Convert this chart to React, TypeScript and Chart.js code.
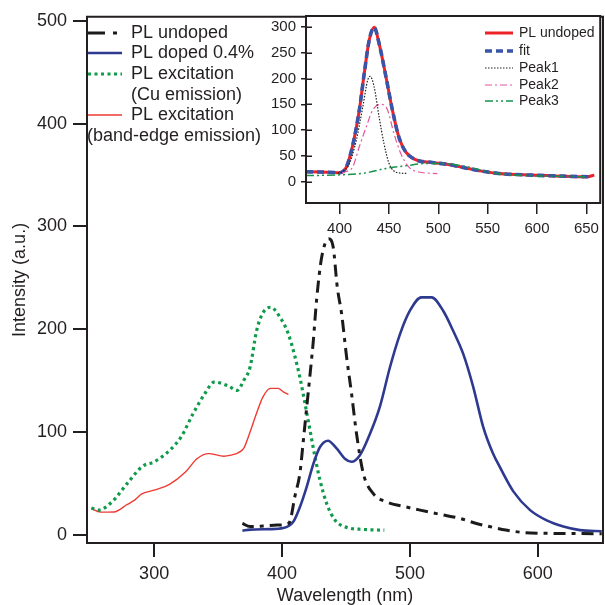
import React, { useEffect, useRef } from "react";
import { Chart, registerables } from "chart.js";

Chart.register(...registerables);

const FONT = "'Liberation Sans', Arial, Helvetica, sans-serif";
const INK = "#231f20";

// ---------- main chart data ----------
const undopedX = [369, 375, 385, 396, 405, 406.5, 410, 414, 416.7, 419.3, 422, 424.5, 427, 431, 436.5, 440, 443.2, 446.6, 450.5, 454.4, 458.3, 463.5, 471.4, 481.8, 497.4, 508, 523, 539, 552, 563, 575, 588, 607, 630, 650];
const undopedY = [11, 8, 8.5, 9.4, 11, 14, 37, 60, 92, 124, 157, 189, 228, 270, 288, 280, 241, 215, 173, 137, 98, 60, 40, 32, 27, 24, 20, 16, 11, 7.8, 4.6, 2.3, 1.4, 1.2, 1];

const dopedX = [369, 375, 390, 401, 408.8, 414, 419.3, 424.5, 429.7, 436, 442.7, 449.2, 454.4, 460.9, 468.7, 476.6, 484.4, 492.2, 500, 509, 517, 526, 534, 541.7, 549.5, 557.3, 565, 570.3, 581, 594, 607, 620, 633, 650];
const dopedY = [4, 5, 5.5, 6.5, 12.6, 27, 46.6, 69, 85.4, 91.5, 84, 74, 71, 77.4, 98, 125, 163, 195, 218, 231, 231, 218, 198, 176, 144, 105, 79, 66, 42, 24, 14, 8, 4.5, 3.5];

const cuExcX = [251, 256.6, 267, 279, 291, 300, 312, 321, 330.5, 339.5, 347, 357.7, 365, 370, 375, 380.2, 385.4, 391, 398.4, 404.9, 410.2, 414, 418, 421.9, 425.8, 429.7, 434.9, 441.4, 450.5, 463.5, 480];
const cuExcY = [26, 24, 32, 50, 66.7, 71, 82, 95, 118, 137, 148.6, 145, 140.5, 150, 163, 199, 216.5, 221.4, 211.7, 195.5, 173, 153, 127.6, 101.6, 75.7, 53, 30.5, 14.3, 7.2, 5.2, 4.5];

const bandExcX = [250.6, 258, 268.5, 279, 285, 290, 300, 312, 324.5, 333.5, 342.6, 354.6, 360, 366, 370, 375, 380, 385, 391, 397, 401, 405];
const bandExcY = [25.6, 22, 22.2, 29.5, 34, 39.5, 43.4, 49, 61, 74, 79, 76.4, 77.5, 80, 84, 100, 118, 134, 142.5, 142.5, 139, 136.5];

const mainXTicks = [300, 400, 500, 600];
const mainYTicks = [0, 100, 200, 300, 400, 500];

// ---------- inset data ----------
const insetPlX = [366, 380, 395, 400, 404, 407, 413, 420, 425, 430, 435, 440, 447, 453.5, 460, 467, 477, 494, 510, 527, 544, 561, 594, 627, 651, 658];
const insetPlY = [19.4, 19, 18, 17.5, 21, 29, 68, 139, 210, 274, 299, 268, 203, 139, 87, 58, 43, 37.5, 33.6, 27, 20.7, 16.2, 13, 11, 9.7, 13];

const fitX = [366, 380, 395, 400, 404, 407, 413, 420, 425, 430, 435, 440, 447, 453.5, 460, 467, 477, 494, 510, 527, 544, 561, 594, 627, 652];
const fitY = [19.4, 19, 18, 17.5, 21, 29, 68, 139, 210, 274, 299, 268, 203, 139, 87, 58, 43, 37.5, 33.6, 27, 20.7, 16.2, 13, 11, 9.7];

const peak1X = [398, 403, 410, 417, 423.5, 428.5, 431, 435, 440, 445, 450, 455, 460, 469];
const peak1Y = [17, 19.5, 35.5, 81, 145, 197, 204, 184, 126, 74, 36, 21, 17.5, 16];

const peak2X = [402, 407, 413.4, 420, 427, 433.5, 442, 448.6, 455, 462, 470, 480, 499];
const peak2Y = [17, 20, 29, 68, 106, 139, 150, 139, 94, 55, 29, 19, 16];

const peak3X = [366, 400, 427, 447, 467, 487, 504, 520, 537, 554, 577, 611, 651];
const peak3Y = [12, 13.5, 17.4, 26, 31, 35.5, 35.5, 32.3, 26, 17.4, 13, 11, 9.7];

const insetXTicks = [400, 450, 500, 550, 600, 650];
const insetYTicks = [0, 50, 100, 150, 200, 250, 300];

const mainLegendLabels = [["PL undoped"], ["PL doped 0.4%"], ["PL excitation", "(Cu emission)"], ["PL excitation", "(band-edge emission)"]];
const insetLegendLabels = ["PL undoped", "fit", "Peak1", "Peak2", "Peak3"];

function pts(xs: number[], ys: number[]) {
  return xs.map((x, i) => ({ x, y: ys[i] }));
}

const lineBase = {
  pointRadius: 0,
  fill: false,
  cubicInterpolationMode: "monotone" as const,
  borderCapStyle: "butt" as const,
  borderJoinStyle: "round" as const,
};

const mainStyles = [
  { color: "#1b1b1b", width: 3, dash: [12, 6, 4, 6], legendDash: [17, 8, 4, 20] },
  { color: "#2e3a8f", width: 2.6, dash: [] as number[], legendDash: [] as number[] },
  { color: "#0f9b4a", width: 3.2, dash: [3, 3.5], legendDash: [3, 3.5] },
  { color: "#ee3b33", width: 1.4, dash: [] as number[], legendDash: [] as number[] },
];

const insetStyles = [
  { color: "#ec2227", width: 3, dash: [] as number[] },
  { color: "#3a55a8", width: 3.6, dash: [7, 4] },
  { color: "#222222", width: 1.2, dash: [1.5, 1.5] },
  { color: "#e4559b", width: 1.2, dash: [7, 3, 2, 3] },
  { color: "#16934b", width: 1.5, dash: [8, 3, 2, 3, 2, 3] },
];

const framePlugin = (sides: { top: boolean; right: boolean; left: boolean; bottom: boolean }, lw: number) => ({
  id: "frame",
  afterDraw(chart: any) {
    const { ctx, chartArea } = chart;
    const { left, right, top, bottom } = chartArea;
    ctx.save();
    ctx.strokeStyle = INK;
    ctx.lineWidth = lw;
    ctx.lineCap = "square";
    ctx.beginPath();
    if (sides.top) { ctx.moveTo(left, top); ctx.lineTo(right, top); }
    if (sides.right) { ctx.moveTo(right, top); ctx.lineTo(right, bottom); }
    if (sides.left) { ctx.moveTo(left, top); ctx.lineTo(left, bottom); }
    if (sides.bottom) { ctx.moveTo(left, bottom); ctx.lineTo(right, bottom); }
    ctx.stroke();
    ctx.restore();
  },
});

const mainLegendPlugin = {
  id: "mainLegend",
  afterDraw(chart: any) {
    const ctx = chart.ctx;
    ctx.save();
    ctx.font = `18px ${FONT}`;
    ctx.fillStyle = INK;
    ctx.textBaseline = "middle";
    const rowsY = [33, 53, 74, 115];
    const contY = [0, 0, 95, 136];
    const contX = [0, 0, 131, 87];
    mainLegendLabels.forEach((lines, i) => {
      const s = mainStyles[i];
      ctx.save();
      ctx.strokeStyle = s.color;
      ctx.lineWidth = s.width;
      ctx.setLineDash(s.legendDash);
      ctx.beginPath();
      ctx.moveTo(88, rowsY[i]);
      ctx.lineTo(122, rowsY[i]);
      ctx.stroke();
      ctx.restore();
      ctx.fillText(lines[0], 131, rowsY[i]);
      if (lines[1]) ctx.fillText(lines[1], contX[i], contY[i]);
    });
    ctx.restore();
  },
};

const insetLegendPlugin = {
  id: "insetLegend",
  afterDraw(chart: any) {
    const ctx = chart.ctx;
    ctx.save();
    ctx.font = `14px ${FONT}`;
    ctx.fillStyle = INK;
    ctx.textBaseline = "middle";
    const rowsY = [33, 51, 68, 85, 101];
    insetLegendLabels.forEach((label, i) => {
      const s = insetStyles[i];
      ctx.save();
      ctx.strokeStyle = s.color;
      ctx.lineWidth = s.width;
      ctx.setLineDash(s.dash);
      ctx.beginPath();
      ctx.moveTo(217, rowsY[i]);
      ctx.lineTo(245, rowsY[i]);
      ctx.stroke();
      ctx.restore();
      ctx.fillText(label, 251, rowsY[i]);
    });
    ctx.restore();
  },
};

const whiteAreaPlugin = {
  id: "whiteArea",
  beforeDraw(chart: any) {
    const { ctx, chartArea } = chart;
    ctx.save();
    ctx.fillStyle = "#ffffff";
    ctx.fillRect(chartArea.left, chartArea.top, chartArea.right - chartArea.left, chartArea.bottom - chartArea.top);
    ctx.restore();
  },
};

const innerTicksPlugin = {
  id: "innerTicks",
  afterDraw(chart: any) {
    const { ctx, chartArea } = chart;
    const ys = chart.scales.y;
    ctx.save();
    ctx.strokeStyle = INK;
    ctx.lineWidth = 1.5;
    ctx.beginPath();
    insetYTicks.forEach((v) => {
      const p = Math.round(ys.getPixelForValue(v)) + 0.25;
      ctx.moveTo(chartArea.left, p);
      ctx.lineTo(chartArea.left + 6, p);
    });
    ctx.stroke();
    ctx.restore();
  },
};

export default function App() {
  const mainRef = useRef<HTMLCanvasElement | null>(null);
  const insetRef = useRef<HTMLCanvasElement | null>(null);

  useEffect(() => {
    if (!mainRef.current || !insetRef.current) return;

    const mainSeries = [
      { label: "PL undoped", data: pts(undopedX, undopedY) },
      { label: "PL doped 0.4%", data: pts(dopedX, dopedY) },
      { label: "PL excitation (Cu emission)", data: pts(cuExcX, cuExcY) },
      { label: "PL excitation (band-edge emission)", data: pts(bandExcX, bandExcY) },
    ];

    const main = new Chart(mainRef.current, {
      type: "line",
      data: {
        datasets: mainSeries.map((d, i) => ({
          ...lineBase,
          ...d,
          borderColor: mainStyles[i].color,
          borderWidth: mainStyles[i].width,
          borderDash: mainStyles[i].dash,
        })),
      },
      options: {
        responsive: false,
        animation: false,
        devicePixelRatio: 1,
        layout: { padding: { top: 16, right: 2, left: 0, bottom: 0 } },
        plugins: { legend: { display: false }, tooltip: { enabled: false } },
        scales: {
          x: {
            type: "linear",
            min: 247.5,
            max: 651,
            afterFit: (s: any) => { s.height = 62; },
            afterBuildTicks: (s: any) => { s.ticks = mainXTicks.map((v) => ({ value: v })); },
            grid: { drawOnChartArea: false, drawTicks: true, tickLength: 14, color: INK, lineWidth: 2 },
            border: { display: false },
            ticks: { font: { family: FONT, size: 18 }, color: INK, padding: 6, maxRotation: 0, autoSkip: false },
            title: { display: true, text: "Wavelength (nm)", color: INK, font: { family: FONT, size: 18, lineHeight: 1 }, padding: { top: 0, bottom: 0 } },
          },
          y: {
            type: "linear",
            min: -8,
            max: 504,
            afterFit: (s: any) => { s.width = 87; },
            afterBuildTicks: (s: any) => { s.ticks = mainYTicks.map((v) => ({ value: v })); },
            grid: { drawOnChartArea: false, drawTicks: true, tickLength: 14, color: INK, lineWidth: 2 },
            border: { display: false },
            ticks: { font: { family: FONT, size: 18 }, color: INK, padding: 6, autoSkip: false },
            title: { display: true, text: "Intensity (a.u.)", color: INK, font: { family: FONT, size: 18, lineHeight: 1 }, padding: { top: 11, bottom: 0 } },
          },
        },
      },
      plugins: [framePlugin({ top: true, right: true, left: true, bottom: true }, 2), mainLegendPlugin],
    } as any);

    const insetSeries = [
      { label: "PL undoped", data: pts(insetPlX, insetPlY), order: 2 },
      { label: "fit", data: pts(fitX, fitY), order: 1 },
      { label: "Peak1", data: pts(peak1X, peak1Y), order: 0 },
      { label: "Peak2", data: pts(peak2X, peak2Y), order: 0 },
      { label: "Peak3", data: pts(peak3X, peak3Y), order: 0 },
    ];

    const inset = new Chart(insetRef.current, {
      type: "line",
      data: {
        datasets: insetSeries.map((d, i) => ({
          ...lineBase,
          ...d,
          borderColor: insetStyles[i].color,
          borderWidth: insetStyles[i].width,
          borderDash: insetStyles[i].dash,
        })),
      },
      options: {
        responsive: false,
        animation: false,
        devicePixelRatio: 1,
        layout: { padding: { top: 16, right: 2, left: 0, bottom: 0 } },
        plugins: { legend: { display: false }, tooltip: { enabled: false } },
        scales: {
          x: {
            type: "linear",
            min: 366,
            max: 664,
            afterFit: (s: any) => { s.height = 47; },
            afterBuildTicks: (s: any) => { s.ticks = insetXTicks.map((v) => ({ value: v })); },
            grid: { drawOnChartArea: false, drawTicks: true, tickLength: 11, color: INK, lineWidth: 1.5 },
            border: { display: false },
            ticks: { font: { family: FONT, size: 15 }, color: INK, padding: 6, maxRotation: 0, autoSkip: false },
          },
          y: {
            type: "linear",
            min: -41,
            max: 321,
            afterFit: (s: any) => { s.width = 38; },
            afterBuildTicks: (s: any) => { s.ticks = insetYTicks.map((v) => ({ value: v })); },
            grid: { drawOnChartArea: false, drawTicks: true, tickLength: 5, color: INK, lineWidth: 1.5 },
            border: { display: false },
            ticks: { font: { family: FONT, size: 15 }, color: INK, padding: 5, autoSkip: false },
          },
        },
      },
      plugins: [whiteAreaPlugin, framePlugin({ top: true, right: true, left: true, bottom: true }, 2), innerTicksPlugin, insetLegendPlugin],
    } as any);

    return () => {
      main.destroy();
      inset.destroy();
    };
  }, []);

  return (
    <div style={{ position: "absolute", left: 0, top: 0, width: 605, height: 605, background: "#ffffff", overflow: "hidden" }}>
      <canvas ref={mainRef} width={605} height={605} style={{ position: "absolute", left: 0, top: 0 }} />
      <canvas ref={insetRef} width={337} height={250} style={{ position: "absolute", left: 268, top: 0 }} />
    </div>
  );
}
